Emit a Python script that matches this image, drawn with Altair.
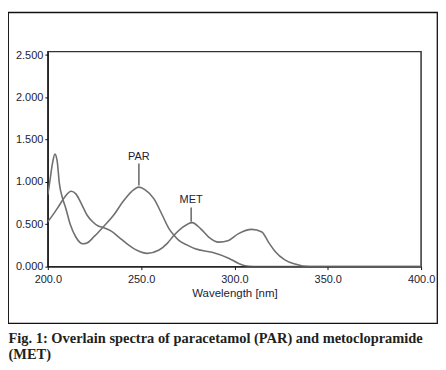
import altair as alt
import pandas as pd

# PAR spectrum (wavelength nm, absorbance)
par_wl = [200, 200.9, 202.5, 203.8, 205, 206.2, 208, 209.5, 212, 215, 218.7, 221, 225, 229.3, 235, 240, 245, 248.8, 252, 256.9, 261.3, 264.9, 267.6, 270.2, 274.7, 279, 288, 296.9, 302, 305.7, 310, 400]
par_ab = [0.85, 0.98, 1.22, 1.33, 1.25, 0.98, 0.80, 0.70, 0.50, 0.35, 0.27, 0.28, 0.36, 0.46, 0.60, 0.76, 0.89, 0.94, 0.91, 0.80, 0.61, 0.45, 0.37, 0.31, 0.255, 0.21, 0.17, 0.10, 0.04, 0.01, 0.0, 0.0]

# MET spectrum
met_wl = [200, 203, 206, 209, 212.5, 215, 218.7, 221, 224, 227, 230, 234, 238, 243, 248, 253.3, 259.6, 264, 267.6, 272, 277.3, 281.8, 286.2, 291.6, 296.9, 302.2, 309.3, 314.7, 318.2, 321.8, 327, 332.5, 340, 400]
met_ab = [0.53, 0.62, 0.72, 0.82, 0.89, 0.86, 0.71, 0.61, 0.53, 0.48, 0.46, 0.42, 0.35, 0.26, 0.19, 0.157, 0.196, 0.275, 0.37, 0.46, 0.52, 0.45, 0.35, 0.29, 0.31, 0.39, 0.44, 0.41, 0.29, 0.18, 0.08, 0.03, 0.0, 0.0]

labels = ["PAR", "MET"]
label_wl = [248.8, 276.8]
label_y = [1.30, 0.79]
leader_y1 = [0.96, 0.53]
leader_y2 = [1.22, 0.70]

x_ticks = [200, 250, 300, 350, 400]
y_ticks = [0.0, 0.5, 1.0, 1.5, 2.0, 2.5]

caption = ["Fig. 1: Overlain spectra of paracetamol (PAR) and metoclopramide", "(MET)"]

rows = [{"wl": w, "ab": a, "s": "PAR", "o": i} for i, (w, a) in enumerate(zip(par_wl, par_ab))]
rows += [{"wl": w, "ab": a, "s": "MET", "o": i} for i, (w, a) in enumerate(zip(met_wl, met_ab))]
df = pd.DataFrame(rows)
ann = pd.DataFrame({"t": labels, "wl": label_wl, "y": label_y, "y1": leader_y1, "y2": leader_y2})
one = pd.DataFrame({"k": [0]})

xs = alt.Scale(domain=[200, 400], nice=False)
ys = alt.Scale(domain=[0, 2.541], nice=False)

lines = alt.Chart(df).mark_line(color="#707070", strokeWidth=1.6, interpolate="monotone", clip=True).encode(
    x=alt.X("wl:Q", scale=xs,
            axis=alt.Axis(values=x_ticks, format=".1f", title="Wavelength [nm]", grid=False,
                          tickSize=3, labelPadding=4, titlePadding=3, domainColor="#111",
                          tickColor="#111", labelFont="Liberation Sans", labelFontSize=11,
                          labelColor="#222233", titleFont="Liberation Sans", titleFontSize=11.5,
                          titleFontWeight="normal", titleColor="#222233", labelFlush=False)),
    y=alt.Y("ab:Q", scale=ys,
            axis=alt.Axis(values=y_ticks, format=".3f", title=None, grid=False, tickSize=3,
                          labelPadding=2, domainColor="#111", tickColor="#111",
                          labelFont="Liberation Sans", labelFontSize=11, labelColor="#222233")),
    detail="s:N",
    order="o:Q",
)

leaders = alt.Chart(ann).mark_rule(color="#666", strokeWidth=1.5).encode(
    x=alt.X("wl:Q", scale=xs), y=alt.Y("y1:Q", scale=ys), y2="y2:Q")

texts = alt.Chart(ann).mark_text(font="Liberation Sans", fontSize=11, color="#222233",
                                 baseline="middle", align="center").encode(
    x=alt.X("wl:Q", scale=xs), y=alt.Y("y:Q", scale=ys), text="t:N")

box = alt.Chart(one).mark_rect(fill=None, stroke="#111", strokeWidth=1.3).encode(
    x=alt.value(-39.7), x2=alt.value(391.3), y=alt.value(-39.3), y2=alt.value(273))

cap1 = alt.Chart(one).mark_text(text=caption[0], font="Liberation Serif", fontWeight="bold",
                                fontSize=14.5, color="#231f20", align="left",
                                baseline="alphabetic").encode(x=alt.value(-39.5), y=alt.value(293))
cap2 = alt.Chart(one).mark_text(text=caption[1], font="Liberation Serif", fontWeight="bold",
                                fontSize=14.5, color="#231f20", align="left",
                                baseline="alphabetic").encode(x=alt.value(-39.5), y=alt.value(308.5))

chart = alt.layer(box, lines, leaders, texts, cap1, cap2).properties(
    width=375, height=216,
    autosize=alt.AutoSizeParams(type="none"),
    padding={"left": 40, "top": 43, "right": 17, "bottom": 96},
).configure_view(stroke="#333", strokeWidth=1.5)

chart.save("out.html", embed_options={"renderer": "svg", "actions": False})
